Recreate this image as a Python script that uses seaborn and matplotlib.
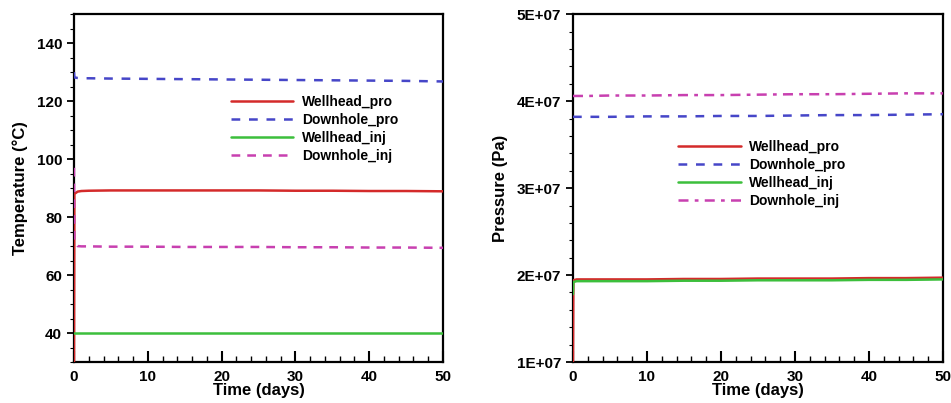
import numpy as np
import pandas as pd
import seaborn as sns
import matplotlib
matplotlib.use("Agg")
import matplotlib.pyplot as plt
from matplotlib.ticker import MultipleLocator, FuncFormatter

# ---- data ----
time_days = [0, 0.05, 0.5, 1, 2, 5, 10, 15, 20, 25, 30, 35, 40, 45, 50]
series_names = ["Wellhead_pro", "Downhole_pro", "Wellhead_inj", "Downhole_inj"]

temp_wellhead_pro = [30, 88.0, 88.8, 89.0, 89.1, 89.2, 89.2, 89.2, 89.2, 89.2, 89.1, 89.1, 89.0, 89.0, 88.9]
temp_downhole_pro = [130, 128.2, 128.0, 127.9, 127.9, 127.8, 127.7, 127.6, 127.5, 127.4, 127.3, 127.2, 127.1, 127.0, 126.8]
temp_wellhead_inj = [40.0, 40.0, 40.0, 40.0, 40.0, 40.0, 40.0, 40.0, 40.0, 40.0, 40.0, 40.0, 40.0, 40.0, 40.0]
temp_downhole_inj = [97, 72.0, 70.0, 69.9, 69.9, 69.8, 69.8, 69.7, 69.7, 69.7, 69.6, 69.6, 69.5, 69.5, 69.4]

pres_wellhead_pro = [1.0e7, 1.94e7, 1.95e7, 1.95e7, 1.95e7, 1.95e7, 1.95e7, 1.955e7, 1.955e7, 1.96e7, 1.96e7, 1.96e7, 1.965e7, 1.965e7, 1.97e7]
pres_downhole_pro = [3.82e7, 3.82e7, 3.82e7, 3.82e7, 3.82e7, 3.82e7, 3.825e7, 3.825e7, 3.83e7, 3.83e7, 3.835e7, 3.84e7, 3.84e7, 3.845e7, 3.85e7]
pres_wellhead_inj = [1.78e7, 1.92e7, 1.93e7, 1.93e7, 1.93e7, 1.93e7, 1.93e7, 1.935e7, 1.935e7, 1.94e7, 1.94e7, 1.94e7, 1.945e7, 1.945e7, 1.95e7]
pres_downhole_inj = [4.06e7, 4.06e7, 4.06e7, 4.06e7, 4.06e7, 4.065e7, 4.065e7, 4.07e7, 4.07e7, 4.075e7, 4.08e7, 4.08e7, 4.085e7, 4.09e7, 4.09e7]

colors = {"Wellhead_pro": "#d42a2a", "Downhole_pro": "#4646c8",
          "Wellhead_inj": "#3cbf3c", "Downhole_inj": "#c840b0"}
dashes_temp = {"Wellhead_pro": "", "Downhole_pro": (3.5, 3.5),
               "Wellhead_inj": "", "Downhole_inj": (3.5, 2.8)}
dashes_pres = {"Wellhead_pro": "", "Downhole_pro": (3.5, 3.5),
               "Wellhead_inj": "", "Downhole_inj": (4, 2.5, 1.5, 2.5)}

def make_df(vals):
    rows = []
    for name, v in zip(series_names, vals):
        for t, y in zip(time_days, v):
            rows.append({"Time": t, "Value": y, "Series": name})
    return pd.DataFrame(rows)

df_temp = make_df([temp_wellhead_pro, temp_downhole_pro, temp_wellhead_inj, temp_downhole_inj])
df_pres = make_df([pres_wellhead_pro, pres_downhole_pro, pres_wellhead_inj, pres_downhole_inj])

sns.set_theme(style="ticks")
plt.rcParams["font.family"] = ["Liberation Sans", "DejaVu Sans"]
plt.rcParams["font.weight"] = "bold"
plt.rcParams["axes.labelweight"] = "bold"
plt.rcParams["text.color"] = "black"
plt.rcParams["axes.labelcolor"] = "black"
plt.rcParams["xtick.color"] = "black"
plt.rcParams["ytick.color"] = "black"

fig = plt.figure(figsize=(9.51, 4.03), dpi=100)
ax1 = fig.add_axes([0.0778, 0.1017, 0.388, 0.863])
ax2 = fig.add_axes([0.6025, 0.1017, 0.389, 0.863])

for ax, df, dmap in ((ax1, df_temp, dashes_temp), (ax2, df_pres, dashes_pres)):
    sns.lineplot(data=df, x="Time", y="Value", hue="Series", style="Series",
                 palette=colors, dashes=dmap, hue_order=series_names,
                 style_order=series_names, linewidth=1.8, ax=ax, legend=True,
                 estimator=None, sort=False, zorder=3)
    ax.set_xlim(0, 50)
    ax.xaxis.set_major_locator(MultipleLocator(10))
    ax.xaxis.set_minor_locator(MultipleLocator(2))
    ax.tick_params(axis="x", which="major", direction="in", length=8, width=1.5,
                   labelsize=11, pad=6, top=False, colors="black")
    ax.tick_params(axis="x", which="minor", direction="in", length=4, width=1, top=False)
    ax.tick_params(axis="y", which="major", direction="out", length=5, width=1.3,
                   labelsize=11, right=False, colors="black")
    ax.tick_params(axis="y", which="minor", direction="out", length=3, width=0.8, right=False)
    for sp in ax.spines.values():
        sp.set_visible(True)
        sp.set_linewidth(1.6)
        sp.set_color("black")
        sp.set_zorder(2.5)
    ax.set_xlabel("Time (days)", fontsize=12, fontweight="bold", labelpad=-1, color="black")

ax1.set_ylim(30, 150)
ax1.yaxis.set_major_locator(MultipleLocator(20))
ax1.yaxis.set_minor_locator(MultipleLocator(5))
ax1.set_yticks([40, 60, 80, 100, 120, 140])
ax1.set_ylabel("Temperature (°C)", fontsize=12, fontweight="bold", labelpad=6, color="black")

ax2.set_ylim(1e7, 5e7)
ax2.yaxis.set_major_locator(MultipleLocator(1e7))
ax2.yaxis.set_minor_locator(MultipleLocator(2e6))
ax2.yaxis.set_major_formatter(FuncFormatter(lambda v, p: f"{v/1e7:.0f}E+07"))
ax2.set_ylabel("Pressure (Pa)", fontsize=12, fontweight="bold", labelpad=6, color="black")

for ax in (ax1, ax2):
    for lbl in ax.get_xticklabels() + ax.get_yticklabels():
        lbl.set_fontweight("bold")

leg_kw = dict(frameon=False, handlelength=4.5, labelspacing=0.3, handletextpad=0.6,
              borderaxespad=0, prop={"weight": "bold", "size": 10})
h1, l1 = ax1.get_legend_handles_labels()
ax1.legend(h1, l1, loc="upper left", bbox_to_anchor=(0.41, 0.785), **leg_kw)
h2, l2 = ax2.get_legend_handles_labels()
ax2.legend(h2, l2, loc="upper left", bbox_to_anchor=(0.27, 0.655), **leg_kw)

fig.savefig("out.png", dpi=100)
